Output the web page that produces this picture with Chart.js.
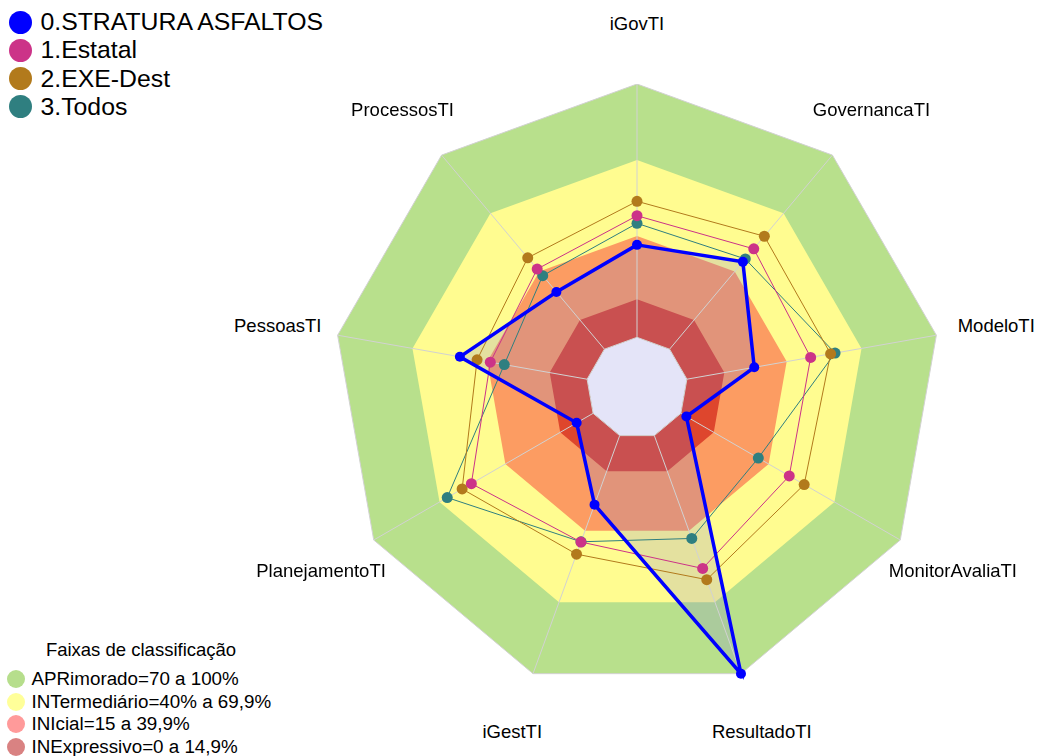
<!DOCTYPE html>
<html>
<head>
<meta charset="utf-8">
<title>Faixas iGovTI - radar</title>
<script src="https://cdn.jsdelivr.net/npm/chart.js@4.4.1/dist/chart.umd.min.js"></script>
<style>
  body { margin: 0; background: #fff; }
  #wrap { position: relative; width: 1037px; height: 756px; overflow: hidden;
          font-family: 'Liberation Sans', Arial, sans-serif; color: #000; }
  #radar { position: absolute; left: 333px; top: 84px; }
  .lbl { position: absolute; white-space: nowrap; font-size: 18.5px; line-height: 1;
         transform: translate(-50%, -50%); }
  .row { position: absolute; display: flex; align-items: center; white-space: nowrap; }
  .dot { display: inline-block; border-radius: 50%; flex: none; }
</style>
</head>
<body>
<div id="wrap">
  <canvas id="radar" width="608" height="608"></canvas>
</div>
<script>
'use strict';

/* ─── Data ─── */
const labels = ['iGovTI', 'GovernancaTI', 'ModeloTI', 'MonitorAvaliaTI', 'ResultadoTI',
                'iGestTI', 'PlanejamentoTI', 'PessoasTI', 'ProcessosTI'];

const stratura = [36.5, 45.0, 27.0, 2.5, 100.0, 29.0, 7.5, 51.0, 29.5];
const estatal  = [48.0, 51.7, 49.6, 49.4, 55.8, 44.7, 55.5, 38.8, 41.3];
const exeDest  = [53.7, 58.2, 57.6, 56.2, 60.5, 49.8, 59.7, 44.1, 47.1];
const todos    = [45.0, 46.5, 59.4, 35.3, 43.2, 44.6, 66.5, 33.2, 37.9];

const seriesNames  = ['0.STRATURA ASFALTOS', '1.Estatal', '2.EXE-Dest', '3.Todos'];
const seriesColors = ['#0000FF', '#CC3388', '#B27A1C', '#2F7F80'];

// classification bands (upper limit of each band)
const bandLevels = [15, 40, 70, 100];
const bandFills  = ['#DE462D', '#FC9C62', '#FFFC90', '#B8E08C'];
const bandNames  = ['INExpressivo=0 a 14,9%', 'INIcial=15 a 39,9%',
                    'INTermediário=40% a 69,9%', 'APRimorado=70 a 100%'];
const bandDots   = ['#D98282', '#FF9A9A', '#FFFF99', '#B6DE8C'];

const SCALE_MIN = -20;
const SCALE_MAX = 100;
const LABEL_AT  = 124;

/* ─── Datasets ─── */
const series = [stratura, estatal, exeDest, todos].map((vals, i) => ({
  label: seriesNames[i],
  data: vals,
  borderColor: seriesColors[i],
  backgroundColor: i === 0 ? 'rgba(120,120,220,0.2)' : 'transparent',
  fill: i === 0 ? 'start' : false,
  borderWidth: i === 0 ? 3.5 : 1,
  pointRadius: i === 0 ? 5 : 5.5,
  pointBackgroundColor: seriesColors[i],
  pointBorderWidth: 0,
  tension: 0
}));

const bands = bandLevels.map((lvl, i) => ({
  label: bandNames[i],
  data: labels.map(() => lvl),
  backgroundColor: bandFills[i],
  borderWidth: 0,
  pointRadius: 0,
  fill: 'origin'
}));

/* ─── Spokes over the band fills, under the series lines ─── */
const spokes = {
  id: 'spokes',
  beforeDatasetsDraw(chart) {
    const r = chart.scales.r;
    const ctx = chart.ctx;
    ctx.save();
    ctx.strokeStyle = '#D2D2D2';
    ctx.lineWidth = 1;
    labels.forEach((_, i) => {
      const a = r.getPointPositionForValue(i, 0);
      const b = r.getPointPositionForValue(i, SCALE_MAX);
      ctx.beginPath(); ctx.moveTo(a.x, a.y); ctx.lineTo(b.x, b.y); ctx.stroke();
    });
    [0, SCALE_MAX].forEach(v => {
      ctx.beginPath();
      labels.forEach((_, i) => {
        const p = r.getPointPositionForValue(i, v);
        if (i) ctx.lineTo(p.x, p.y); else ctx.moveTo(p.x, p.y);
      });
      ctx.closePath();
      ctx.stroke();
    });
    ctx.restore();
  }
};

/* ─── Axis names as page text, placed through the radial scale ─── */
const axisNames = {
  id: 'axisNames',
  afterDraw(chart) {
    if (chart.$named) return;
    chart.$named = true;
    const r = chart.scales.r;
    const wrap = document.getElementById('wrap');
    const cv = chart.canvas;
    labels.forEach((name, i) => {
      const p = r.getPointPositionForValue(i, LABEL_AT);
      const d = document.createElement('div');
      d.className = 'lbl';
      d.textContent = name;
      d.style.left = (cv.offsetLeft + p.x) + 'px';
      d.style.top = (cv.offsetTop + p.y + 1) + 'px';
      wrap.appendChild(d);
    });
  }
};

new Chart(document.getElementById('radar'), {
  type: 'radar',
  data: { labels: labels, datasets: series.concat(bands) },
  options: {
    responsive: false,
    animation: false,
    events: [],
    scales: {
      r: {
        min: SCALE_MIN,
        max: SCALE_MAX,
        ticks: { display: false },
        grid: { display: false },
        angleLines: { display: false },
        pointLabels: { display: false }
      }
    },
    plugins: {
      legend: { display: false },
      tooltip: { enabled: false },
      filler: { drawTime: 'beforeDatasetsDraw' }
    }
  },
  plugins: [spokes, axisNames]
});

/* ─── Legends ─── */
const wrap = document.getElementById('wrap');

function addRow(text, color, left, cy, h, dotSize, gap, fontSize) {
  const row = document.createElement('div');
  row.className = 'row';
  row.style.left = left + 'px';
  row.style.top = (cy - h / 2) + 'px';
  row.style.height = h + 'px';
  row.style.fontSize = fontSize + 'px';
  const dot = document.createElement('span');
  dot.className = 'dot';
  dot.style.width = dot.style.height = dotSize + 'px';
  dot.style.background = color;
  dot.style.marginRight = gap + 'px';
  row.appendChild(dot);
  row.appendChild(document.createTextNode(text));
  wrap.appendChild(row);
}

seriesNames.forEach((n, i) => addRow(n, seriesColors[i], 8.5, 22 + 28.3 * i, 28, 23, 9, 24.8));

const title = document.createElement('div');
title.className = 'lbl';
title.textContent = 'Faixas de classificação';
title.style.left = '141px';
title.style.top = '650px';
wrap.appendChild(title);

// bottom legend lists bands from the top band down
for (let k = bandNames.length - 1, j = 0; k >= 0; k--, j++) {
  addRow(bandNames[k], bandDots[k], 7, 679 + 22.7 * j, 22, 18, 6.5, 18.8);
}
</script>
</body>
</html>
